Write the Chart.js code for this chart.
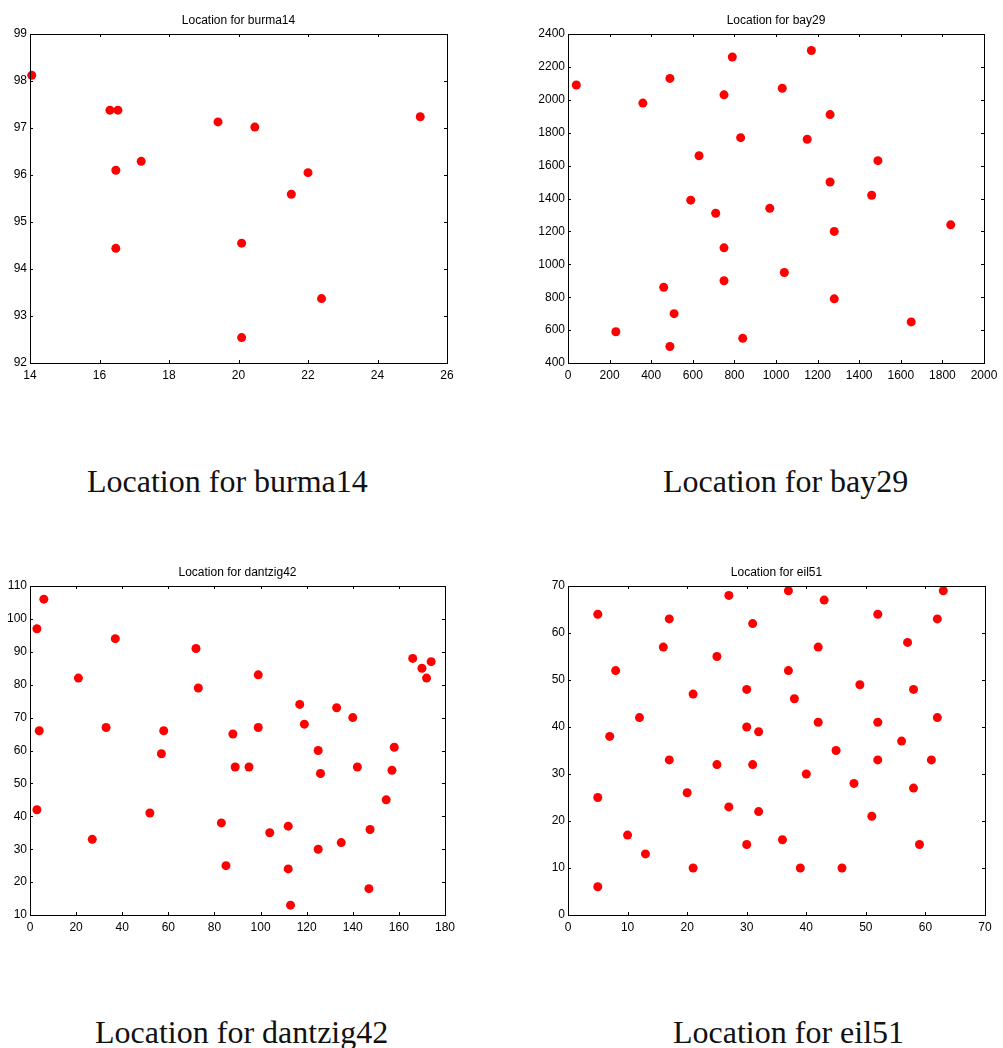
<!DOCTYPE html>
<html>
<head>
<meta charset="utf-8">
<title>TSP city locations</title>
<script src="https://cdn.jsdelivr.net/npm/chart.js@4.4.1/dist/chart.umd.min.js"></script>
<style>
  html, body { margin: 0; padding: 0; background: #fff; }
  body { position: relative; width: 1003px; height: 1048px; overflow: hidden; }
  canvas { position: absolute; }
  .caption {
    position: absolute;
    font-family: "Liberation Serif", "Times New Roman", serif;
    font-size: 32px;
    line-height: 32px;
    color: #111;
    white-space: nowrap;
  }
</style>
</head>
<body>
<canvas id="burmaChart" width="460" height="400" style="left:0px;top:0px"></canvas>
<canvas id="bayChart" width="503" height="400" style="left:500px;top:0px"></canvas>
<canvas id="dantzigChart" width="460" height="400" style="left:0px;top:552px"></canvas>
<canvas id="eilChart" width="503" height="400" style="left:500px;top:552px"></canvas>

<div class="caption" style="left:87px;top:465px">Location for burma14</div>
<div class="caption" style="left:663px;top:465px">Location for bay29</div>
<div class="caption" style="left:95px;top:1016px">Location for dantzig42</div>
<div class="caption" style="left:673px;top:1016px">Location for eil51</div>

<script>
// burma14 城市座標
const burmaX = [16.47, 16.47, 20.09, 22.39, 25.23, 22.00, 20.47, 17.20, 16.30, 14.05, 16.53, 21.52, 19.41, 20.09];
const burmaY = [96.10, 94.44, 92.54, 93.37, 97.24, 96.05, 97.02, 96.29, 97.38, 98.12, 97.38, 95.59, 97.13, 94.55];

// bay29 城市座標
const bayX = [1150, 630, 40, 750, 750, 1030, 1650, 1490, 790, 710, 840, 1170, 970, 510, 750,
  1280, 230, 460, 1040, 590, 830, 490, 1840, 1260, 1280, 490, 1460, 1260, 360];
const bayY = [1760, 1660, 2090, 1100, 2030, 2070, 650, 1630, 2260, 1310, 550, 2300, 1340, 700, 900,
  1200, 590, 860, 950, 1390, 1770, 500, 1240, 1500, 790, 2130, 1420, 1910, 1980];

// dantzig42 城市座標
const dantzigX = [170, 166, 133, 140, 142, 126, 125, 119, 117, 99, 73, 72, 37, 6, 3, 21, 33, 4, 3, 27, 52,
  57, 58, 88, 99, 95, 89, 83, 85, 104, 112, 112, 113, 125, 135, 147, 147.5, 154.5, 157, 158, 172, 174];
const dantzigY = [85, 88, 73, 70, 55, 53, 60, 68, 74, 83, 79, 91, 94, 106, 97, 82, 67, 66, 42, 33, 41,
  59, 66, 65, 67, 55, 55, 38, 25, 35, 37, 24, 13, 30, 32, 18, 36, 45, 54, 61, 82, 87];

// eil51 城市座標
const eilX = [37, 49, 52, 20, 40, 21, 17, 31, 52, 51, 42, 31, 5, 12, 36, 52, 27, 17, 13, 57, 62, 42, 16, 8, 7,
  27, 30, 43, 58, 58, 37, 38, 46, 61, 62, 63, 32, 45, 59, 5, 10, 21, 5, 30, 39, 32, 25, 25, 48, 56, 30];
const eilY = [52, 49, 64, 26, 30, 47, 63, 62, 33, 21, 41, 32, 25, 42, 16, 41, 23, 33, 13, 58, 42, 57, 57, 52, 38,
  68, 48, 67, 48, 27, 69, 46, 10, 33, 63, 69, 22, 35, 15, 6, 17, 10, 64, 15, 10, 39, 32, 55, 28, 37, 40];

// 座標軸範圍與刻度間距
const burmaAxis = { xMin: 14, xMax: 26, xStep: 2, yMin: 92, yMax: 99, yStep: 1 };
const bayAxis = { xMin: 0, xMax: 2000, xStep: 200, yMin: 400, yMax: 2400, yStep: 200 };
const dantzigAxis = { xMin: 0, xMax: 180, xStep: 20, yMin: 10, yMax: 110, yStep: 10 };
const eilAxis = { xMin: 0, xMax: 70, xStep: 10, yMin: 0, yMax: 70, yStep: 10 };

const FONT_FAMILY = "'Liberation Sans', Arial, sans-serif";
const TICK_FONT = { family: FONT_FAMILY, size: 12 };
const TICK_LEN = 3;

/**
 * 畫 MATLAB 風格的外框、四邊向內刻度，以及置中於繪圖區的小標題
 */
const boxPlugin = {
  id: 'boxPlugin',
  afterDraw(chart, args, opts) {
    const { ctx, chartArea: a, scales } = chart;
    ctx.save();
    ctx.strokeStyle = '#000';
    ctx.lineWidth = 1;
    ctx.beginPath();
    scales.x.ticks.forEach(t => {
      const px = Math.round(scales.x.getPixelForValue(t.value)) + 0.5;
      ctx.moveTo(px, a.bottom); ctx.lineTo(px, a.bottom - TICK_LEN);
      ctx.moveTo(px, a.top); ctx.lineTo(px, a.top + TICK_LEN);
    });
    scales.y.ticks.forEach(t => {
      const py = Math.round(scales.y.getPixelForValue(t.value)) + 0.5;
      ctx.moveTo(a.left, py); ctx.lineTo(a.left + TICK_LEN, py);
      ctx.moveTo(a.right, py); ctx.lineTo(a.right - TICK_LEN, py);
    });
    ctx.stroke();
    ctx.strokeRect(Math.round(a.left) + 0.5, Math.round(a.top) + 0.5,
      Math.round(a.right - a.left), Math.round(a.bottom - a.top));

    // 標題
    ctx.fillStyle = '#000';
    ctx.font = '12px ' + FONT_FAMILY;
    ctx.textAlign = 'center';
    ctx.textBaseline = 'middle';
    ctx.fillText(opts.text, (a.left + a.right) / 2, a.top - 13);
    ctx.restore();
  }
};

/**
 * 建立一張散佈圖
 */
function makeScatter(canvasId, title, xs, ys, axis, yAxisWidth, rightPad) {
  const points = xs.map((x, i) => ({ x: x, y: ys[i] }));
  const ctx = document.getElementById(canvasId).getContext('2d');
  return new Chart(ctx, {
    type: 'scatter',
    data: {
      datasets: [{
        data: points,
        backgroundColor: '#ff0000',
        borderWidth: 0,
        pointRadius: 4.5,
        pointHoverRadius: 4.5,
        clip: false
      }]
    },
    options: {
      responsive: false,
      animation: false,
      devicePixelRatio: 1,
      layout: { padding: { left: 0, right: rightPad, top: 34, bottom: 15 } },
      plugins: {
        legend: { display: false },
        tooltip: { enabled: false },
        title: { display: false },
        boxPlugin: { text: title }
      },
      scales: {
        x: {
          type: 'linear',
          min: axis.xMin,
          max: axis.xMax,
          clip: false,
          grid: { display: false, drawTicks: false },
          border: { display: false },
          ticks: {
            stepSize: axis.xStep, autoSkip: false, maxRotation: 0, padding: 5,
            color: '#000', font: TICK_FONT, callback: v => String(v)
          },
          afterFit(scale) { scale.height = 22; }
        },
        y: {
          type: 'linear',
          min: axis.yMin,
          max: axis.yMax,
          clip: false,
          grid: { display: false, drawTicks: false },
          border: { display: false },
          ticks: {
            stepSize: axis.yStep, autoSkip: false, padding: 3,
            color: '#000', font: TICK_FONT, callback: v => String(v)
          },
          afterFit(scale) { scale.width = yAxisWidth; }
        }
      }
    },
    plugins: [boxPlugin]
  });
}

window.onload = function () {
  makeScatter('burmaChart', 'Location for burma14', burmaX, burmaY, burmaAxis, 30, 13);
  makeScatter('bayChart', 'Location for bay29', bayX, bayY, bayAxis, 68, 19);
  makeScatter('dantzigChart', 'Location for dantzig42', dantzigX, dantzigY, dantzigAxis, 30, 13);
  makeScatter('eilChart', 'Location for eil51', eilX, eilY, eilAxis, 68, 18);
};
</script>
</body>
</html>
